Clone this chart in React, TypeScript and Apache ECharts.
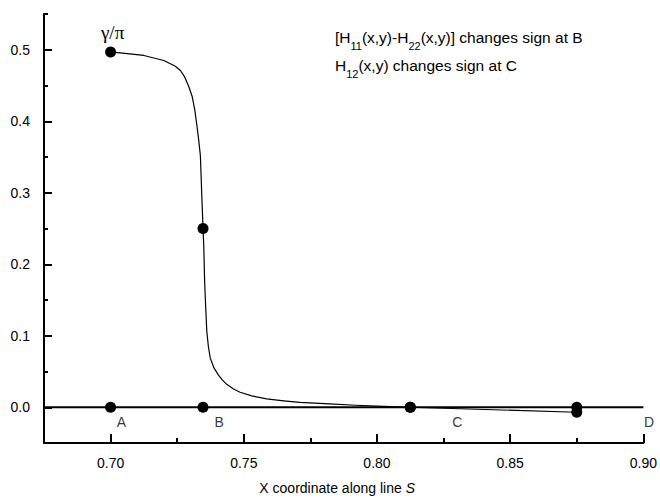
import React, { useEffect, useRef } from "react";
import * as echarts from "echarts";

// Curve gamma/pi along line S
const curveX = [0.700, 0.7125, 0.7200, 0.7243, 0.7262, 0.7278, 0.7292, 0.7306, 0.7316, 0.7324, 0.7331, 0.7337, 0.7342, 0.7347, 0.7350, 0.7353, 0.7357, 0.7361, 0.7367, 0.7374, 0.7388, 0.7405, 0.7420, 0.7436, 0.7460, 0.7486, 0.7530, 0.7586, 0.7650, 0.7711, 0.7822, 0.7920, 0.8000, 0.8125, 0.875];
const curveY = [0.497, 0.492, 0.485, 0.477, 0.471, 0.462, 0.450, 0.435, 0.416, 0.394, 0.373, 0.352, 0.300, 0.250, 0.222, 0.176, 0.140, 0.107, 0.085, 0.069, 0.055, 0.045, 0.038, 0.032, 0.026, 0.021, 0.016, 0.0116, 0.0090, 0.0069, 0.0046, 0.0028, 0.0015, 0.0, -0.007];

// Marked points on the curve
const markX = [0.700, 0.7347, 0.8125, 0.875];
const markY = [0.497, 0.250, 0.0, -0.007];

// Marked points on the zero line
const zeroMarkX = [0.700, 0.7347, 0.8125, 0.875];
const zeroLineX = [0.675, 0.900];

// Point letters
const letterNames = ["A", "B", "C", "D"];
const letterX = [0.7041, 0.7408, 0.8302, 0.9021];
const letterY = [-0.021, -0.021, -0.021, -0.021];

// Axis ticks
const xMajor = [0.70, 0.75, 0.80, 0.85, 0.90];
const xMinor = [0.725, 0.775, 0.825, 0.875];
const yMajor = [0.0, 0.1, 0.2, 0.3, 0.4, 0.5];
const yMinor = [0.05, 0.15, 0.25, 0.35, 0.45, 0.55];

const FONT = "'Liberation Sans', Arial, Helvetica, sans-serif";

export default function App() {
  const ref = useRef<HTMLDivElement>(null);
  useEffect(() => {
    if (!ref.current) return;
    const chart = echarts.init(ref.current, undefined, { renderer: "svg" });
    const black = "#000";
    const common = {
      type: "value" as const,
      splitLine: { show: false },
    };
    const rich = {
      n: { fontSize: 15.5, fontFamily: FONT, color: black, lineHeight: 28, verticalAlign: "middle" },
      s: { fontSize: 11, fontFamily: FONT, color: black, lineHeight: 12, verticalAlign: "bottom" },
    };
    chart.setOption({
      animation: false,
      backgroundColor: "#fff",
      textStyle: { fontFamily: FONT, color: black },
      grid: { left: 44, right: 13, top: 14, bottom: 54, containLabel: false },
      xAxis: [
        {
          ...common,
          min: 0.675,
          max: 0.9,
          position: "bottom",
          axisLine: { show: true, onZero: false, lineStyle: { color: black, width: 2 } },
          axisTick: { show: true, inside: true, length: 9, customValues: xMajor, lineStyle: { color: black, width: 2 } },
          axisLabel: { show: true, customValues: xMajor, margin: 13, fontSize: 14, color: black, fontFamily: FONT, formatter: (v: number) => v.toFixed(2) },
          name: "{n|X coordinate along line }{i|S}",
          nameLocation: "middle",
          nameGap: 38,
          nameTextStyle: {
            padding: [0, 13, 0, 0],
            rich: {
              n: { fontSize: 14, fontFamily: FONT, color: black },
              i: { fontSize: 14, fontFamily: FONT, color: black, fontStyle: "italic" },
            },
          },
        },
        {
          ...common,
          min: 0.675,
          max: 0.9,
          position: "bottom",
          axisLine: { show: false, onZero: false },
          axisTick: { show: true, inside: true, length: 5, customValues: xMinor, lineStyle: { color: black, width: 2 } },
          axisLabel: { show: false },
        },
      ],
      yAxis: [
        {
          ...common,
          min: -0.05,
          max: 0.55,
          position: "left",
          axisLine: { show: true, onZero: false, lineStyle: { color: black, width: 2 } },
          axisTick: { show: true, inside: true, length: 8, customValues: yMajor, lineStyle: { color: black, width: 2 } },
          axisLabel: { show: true, customValues: yMajor, margin: 14, fontSize: 14, color: black, fontFamily: FONT, formatter: (v: number) => v.toFixed(1) },
        },
        {
          ...common,
          min: -0.05,
          max: 0.55,
          position: "left",
          axisLine: { show: false, onZero: false },
          axisTick: { show: true, inside: true, length: 4, customValues: yMinor, lineStyle: { color: black, width: 2 } },
          axisLabel: { show: false },
        },
      ],
      series: [
        {
          type: "line",
          data: zeroLineX.map((x) => [x, 0]),
          showSymbol: false,
          lineStyle: { color: black, width: 1.8 },
          silent: true,
          z: 2,
        },
        {
          type: "line",
          data: curveX.map((x, i) => [x, curveY[i]]),
          showSymbol: false,
          smooth: false,
          lineStyle: { color: black, width: 1.2, join: "round" },
          silent: true,
          z: 3,
        },
        {
          type: "scatter",
          data: zeroMarkX.map((x) => [x, 0]),
          symbol: "circle",
          symbolSize: 11,
          itemStyle: { color: black, opacity: 1 },
          silent: true,
          z: 4,
        },
        {
          type: "scatter",
          data: markX.map((x, i) => {
            const item: any = { value: [x, markY[i]] };
            if (i === 0) {
              item.label = {
                show: true,
                formatter: "γ/π",
                position: "top",
                distance: 4,
                offset: [2, 0],
                fontSize: 19,
                fontFamily: "'Liberation Serif', 'Times New Roman', serif",
                color: black,
              };
            }
            return item;
          }),
          symbol: "circle",
          symbolSize: 11,
          itemStyle: { color: black, opacity: 1 },
          silent: true,
          z: 5,
        },
        {
          type: "scatter",
          data: letterX.map((x, i) => ({ value: [x, letterY[i]], name: letterNames[i] })),
          symbolSize: 0,
          clip: false,
          itemStyle: { color: "transparent" },
          label: {
            show: true,
            position: "inside",
            formatter: (p: any) => p.name,
            fontSize: 14,
            fontFamily: FONT,
            color: black,
          },
          silent: true,
          z: 6,
        },
      ],
      graphic: [
        {
          type: "text",
          left: 335,
          top: 29,
          style: {
            text: "{n|[H}{s|11}{n|(x,y)-H}{s|22}{n|(x,y)] changes sign at B}\n{n|H}{s|12}{n|(x,y) changes sign at C}",
            rich,
          },
        },
      ],
    });
    return () => chart.dispose();
  }, []);
  return <div ref={ref} style={{ position: "fixed", left: 0, top: 0, width: 660, height: 500 }} />;
}
